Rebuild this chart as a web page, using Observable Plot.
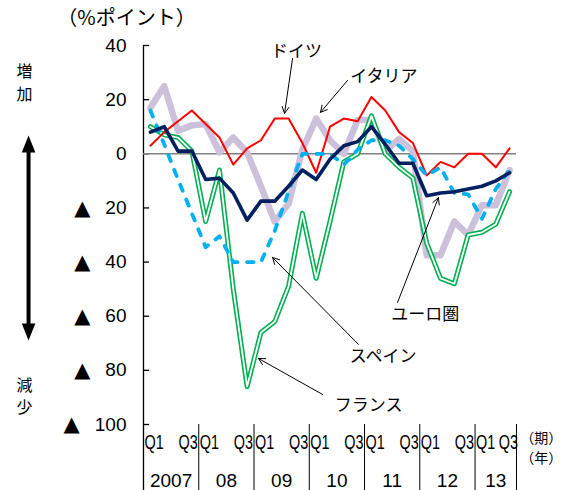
<!DOCTYPE html>
<html><head><meta charset="utf-8">
<script src="https://cdn.jsdelivr.net/npm/d3@7"></script>
<script src="https://cdn.jsdelivr.net/npm/@observablehq/plot@0.6"></script>
<style>body{margin:0;background:#fff} svg{display:block}</style>
</head><body><div id="chart"></div>
<script>
// ---- data ----
const years = ["2007","08","09","10","11","12","13"];
const quarterNames = ["Q1","Q2","Q3","Q4"];
const nQuarters = 27; // 2007Q1 .. 2013Q3
const germany = [3, 8, 12, 16, 11, 6, -4, 2, 5, 13, 13, 4, -7, 10, 13, 12, 21, 16, 8, 4, -8, -3, -5, 0, 0, -5, 2];
const italy   = [17, 25, 8.5, 10.5, 11, 0.5, 6, 0.5, -12, -25, -18.5, 1.5, 13, 5, 0, 12.5, 12.5, 1, 5.5, 1, -37.5, -37.5, -25, -30, -19, -19, -6];
const euro    = [8, 10, 1, 1, -9.5, -9, -14.5, -24.5, -17.5, -17.5, -12, -6, -9.5, -2, 3, 4.5, 10, 3.5, -3.5, -3.5, -15.5, -14.5, -14, -13, -12, -10, -7];
const spain   = [16, 3.5, -9.5, -22, -34.5, -30.5, -40, -40, -40, -28.5, -14, 0, 0, 0, -4, 1.5, 5, 5, 3, -2, -8, -5, -14.5, -15, -24, -13, -6];
const france  = [10, 7, 6, 1, -25, -6, -50, -86, -66, -62, -49, -22, -46, -25, -3, 0, 14, 0, -5, -9, -33, -46, -48, -30, -29, -26, -14];
const yTicks = [40, 20, 0, -20, -40, -60, -80, -100];
const unitLabel = "（%ポイント）";
const periodUnit = "（期）";
const yearUnit = "（年）";

// ---- derived tables ----
const toRows = arr => arr.map((v, i) => ({i, v}));
const yearRows = years.map((y, k) => {
  const s = 4 * k - 0.5, e = Math.min(4 * k + 3.5, nQuarters - 0.5);
  return {label: y, s, e, c: (s + e) / 2};
});
const PXU = 373 / 27; // pixels per quarter
const q1Rows = yearRows.map(d => ({label: quarterNames[0], x: d.s + 1 / PXU}));
const q3Rows = yearRows.map((d, k) => ({label: quarterNames[2], x: d.e + (k === yearRows.length - 1 ? 1.5 : -1) / PXU}));

const JP = "'Noto Sans CJK JP', sans-serif";
const NUM = "'Liberation Sans', Arial, 'Noto Sans CJK JP', sans-serif";

const line = (arr, o) => Plot.line(toRows(arr), {x: "i", y: "v", strokeLinejoin: "round", strokeLinecap: "round", ...o});

const headUp = {draw(ctx) { ctx.moveTo(0, -8.5); ctx.lineTo(6.8, 8.5); ctx.lineTo(-6.8, 8.5); ctx.closePath(); }};
const headDown = {draw(ctx) { ctx.moveTo(0, 8.5); ctx.lineTo(6.8, -8.5); ctx.lineTo(-6.8, -8.5); ctx.closePath(); }};

const notes = [
  {label: "ドイツ", x: 10.58, y: 37.9},
  {label: "イタリア", x: 16.9, y: 28.7},
  {label: "ユーロ圏", x: 19.9, y: -59.4},
  {label: "スペイン", x: 16.85, y: -74.9},
  {label: "フランス", x: 15.8, y: -93.0}
];
const arrows = [
  {x1: 10.29, y1: 35.2, x2: 9.71, y2: 14.9},
  {x1: 14.27, y1: 27.1, x2: 12.31, y2: 15.3},
  {x1: 17.89, y1: -54.9, x2: 20.85, y2: -16.2},
  {x1: 15.06, y1: -70.4, x2: 8.84, y2: -38.3},
  {x1: 12.46, y1: -88.9, x2: 7.82, y2: -75.6}
];
const side = [
  {t: "増", y: 30.4}, {t: "加", y: 21.9}, {t: "減", y: -85.6}, {t: "少", y: -93.7}
];
const labX = -1.73;

const chart = Plot.plot({
  width: 564, height: 490,
  marginLeft: 143, marginRight: 48, marginTop: 45, marginBottom: 66,
  x: {type: "linear", domain: [-0.5, nQuarters - 0.5], axis: null},
  y: {domain: [-100, 40], axis: null},
  style: {background: "#fff"},
  marks: [
    // axis structure
    Plot.ruleX([-0.5], {y1: 40, y2: -126, stroke: "#000", strokeWidth: 1.3}),
    Plot.ruleX(yearRows.map(d => d.e), {y1: -100, y2: -126, stroke: "#000", strokeWidth: 1}),
    Plot.ruleY(yTicks, {x1: -0.5, x2: -0.06, stroke: "#000", strokeWidth: 1.3}),
    Plot.text(yTicks, {x: labX, y: d => d, text: d => String(Math.abs(d)), textAnchor: "end", fontSize: 19, fontFamily: NUM, fill: "#000"}),
    Plot.text(yTicks.filter(d => d < 0), {
      x: d => labX - (String(-d).length * 10.6 + 15) / PXU, y: d => d,
      text: () => "▲", textAnchor: "end", fontSize: 21, fontFamily: "'DejaVu Sans', sans-serif", fill: "#000"}),
    Plot.text([unitLabel], {x: labX, y: 50, text: d => d, fontSize: 20, fontFamily: JP, fill: "#000"}),
    Plot.ruleY([0], {x1: -0.5, x2: nQuarters - 0.5, stroke: "#808080", strokeWidth: 1.6}),
    // x labels
    Plot.text(q1Rows, {x: "x", y: -106.6, text: "label", textAnchor: "start", fontSize: 20, fontFamily: NUM, fill: "#000"}),
    Plot.text(q3Rows, {x: "x", y: -106.6, text: "label", textAnchor: "end", fontSize: 20, fontFamily: NUM, fill: "#000"}),
    Plot.text(yearRows, {x: "c", text: "label", frameAnchor: "bottom", lineAnchor: "middle", dy: 56, fontSize: 19, fontFamily: NUM, fill: "#000"}),
    Plot.text([periodUnit, yearUnit], {x: 28.3, y: (d, i) => i === 0 ? -105.3 : -112.4, text: d => d, fontSize: 14, fontFamily: JP, fill: "#000"}),
    // series
    line(italy, {stroke: "#CCC0DA", strokeWidth: 6.5}),
    line(france, {stroke: "#00B050", strokeWidth: 5}),
    line(france, {stroke: "#fff", strokeWidth: 1.8}),
    line(germany, {stroke: "#FF0000", strokeWidth: 2}),
    line(spain, {stroke: "#00B0F0", strokeWidth: 3.8, strokeDasharray: "6.5,9.5"}),
    line(euro, {stroke: "#002060", strokeWidth: 3.6}),
    // annotations
    Plot.arrow(arrows, {x1: "x1", y1: "y1", x2: "x2", y2: "y2", stroke: "#000", strokeWidth: 1, headLength: 11, headAngle: 55}),
    Plot.text(notes, {x: "x", y: "y", text: "label", fontSize: 17, fontFamily: JP, fill: "#000"}),
    // left side indicator
    Plot.text(side, {x: -9.11, y: "y", text: "t", fontSize: 16, fontFamily: JP, fill: "#000"}),
    Plot.ruleX([-8.82], {y1: 2.5, y2: -64.5, stroke: "#000", strokeWidth: 4}),
    Plot.dot([3.61], {x: -8.82, y: d => d, symbol: headUp, fill: "#000", stroke: "none"}),
    Plot.dot([-65.84], {x: -8.82, y: d => d, symbol: headDown, fill: "#000", stroke: "none"})
  ]
});
// narrow the quarter labels (condensed look of the original), scaling about each label's anchor
d3.select(chart).selectAll("text")
  .filter(function () { return /^Q[13]$/.test(this.textContent); })
  .each(function () {
    const el = d3.select(this);
    const t = el.attr("transform") || "";
    const px = +(el.attr("x") || 0);
    el.attr("transform", `${t} translate(${px},0) scale(0.72,1) translate(${-px},0)`);
  });
document.getElementById("chart").appendChild(chart);
</script>
</body></html>
